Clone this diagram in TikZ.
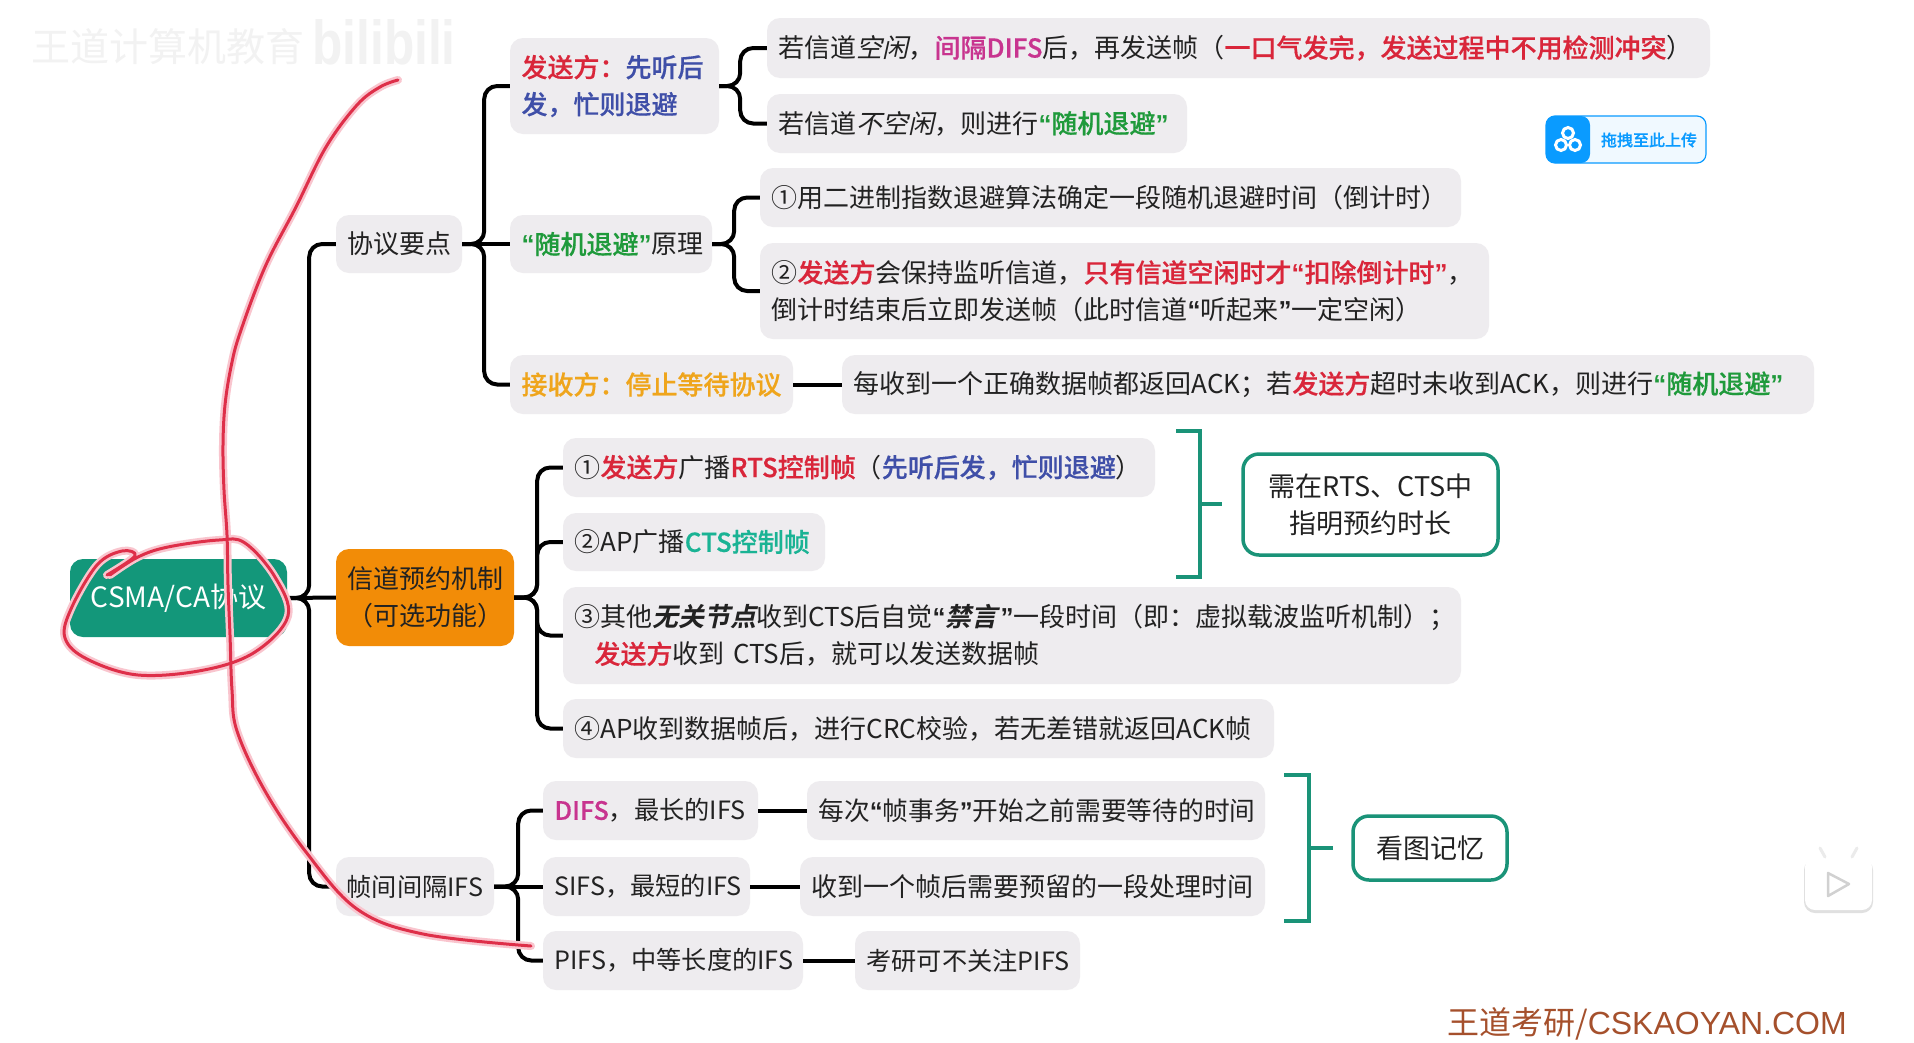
\documentclass[tikz,border=0pt]{standalone}
\usepackage{fontspec}
\setmainfont[BoldFont={Noto Sans CJK SC Medium},BoldFeatures={FakeBold=0.5}]{Noto Sans CJK SC}
\newfontfamily\slantreg[FakeSlant=0.22]{Noto Sans CJK SC}
\newfontfamily\slantbold[FakeSlant=0.22]{Noto Sans CJK SC Bold}
\newfontfamily\latinfont{Liberation Sans}
\definecolor{boxgrey}{HTML}{EEECEF}
\definecolor{inkc}{HTML}{222222}
\definecolor{cred}{HTML}{D9263A}
\definecolor{cblue}{HTML}{3F4FA8}
\definecolor{cgreen}{HTML}{1F9A3B}
\definecolor{cteal}{HTML}{1AB394}
\definecolor{cmag}{HTML}{C8348F}
\definecolor{corange}{HTML}{EFA51C}
\definecolor{rootc}{HTML}{13977A}
\definecolor{orangefill}{HTML}{F28C07}
\definecolor{edgegreen}{HTML}{1A9378}
\definecolor{brownc}{HTML}{A5502C}
\definecolor{upblue}{HTML}{0A9BFF}
\definecolor{penred}{HTML}{DE2F49}
\definecolor{penglow}{HTML}{F9C5CE}
\newcommand{\tred}[1]{{\bfseries\color{cred}#1}}
\newcommand{\tblue}[1]{{\bfseries\color{cblue}#1}}
\newcommand{\tgreen}[1]{{\bfseries\color{cgreen}#1}}
\newcommand{\tteal}[1]{{\bfseries\color{cteal}#1}}
\newcommand{\tmag}[1]{{\bfseries\color{cmag}#1}}
\newcommand{\torg}[1]{{\bfseries\color{corange}#1}}
\newcommand{\qo}{{\latinfont\bfseries “}}
\newcommand{\qc}{{\latinfont\bfseries ”}}
\tikzset{
  bx/.style={rectangle,rounded corners=13pt,fill=boxgrey,text=inkc,inner sep=0pt,align=center,
    font=\fontsize{26}{37}\selectfont},
  bl/.style={bx,align=left,text width=\bw pt-23pt},
  nar/.style={font=\fontsize{25.2}{37}\selectfont},
  notebox/.style={rectangle,rounded corners=16pt,draw=edgegreen,line width=3.5pt,fill=white,text=inkc,inner sep=0pt,align=center,
    font=\fontsize{27}{37}\selectfont},
  conn/.style={draw=black,line width=4pt,rounded corners=13pt},
  brk/.style={draw=edgegreen,line width=3.8pt},
  pen/.style={draw=penred,line width=3pt,line cap=round,line join=round},
  penhalo/.style={draw=penglow,line width=8pt,line cap=round,line join=round},
}
\newcommand{\bxn}[7]{\pgfmathsetmacro{\bw}{#4-#3}\pgfmathsetmacro{\bh}{#6-#5}\pgfmathsetmacro{\cx}{(#3+#4)/2}\pgfmathsetmacro{\cy}{(#5+#6)/2}%
  \node[#2,minimum width=\bw pt,minimum height=\bh pt] (#1) at (\cx,\cy) {#7};}
\begin{document}
\begin{tikzpicture}[x=1pt,y=-1pt]
\useasboundingbox (0,0) rectangle (1914,1042);
\fill[white] (0,0) rectangle (1914,1042);
% watermark
\node[text=black!5,font=\fontsize{39}{39}\selectfont,inner sep=0pt] (wm) at (168,47) {王道计算机教育};
\node[text=black!5,font=\latinfont\bfseries\fontsize{62}{62}\selectfont,inner sep=0pt,xscale=0.8] (wmb) at (384,42) {bilibili};
% nodes
\bxn{root}{bx,fill=rootc,text=white,font=\fontsize{28}{37}\selectfont}{70}{287}{559}{637}{CSMA/CA协议}
\bxn{proto}{bx}{336}{462}{215}{273}{协议要点}
\bxn{resv}{bx,fill=orangefill}{336}{514}{549}{646}{信道预约机制\\（可选功能）}
\bxn{ifs}{bx,nar}{336}{494}{857}{916}{帧间间隔IFS}
\bxn{send}{bl}{510}{719}{38}{134}{\tred{发送方：}\tblue{先听后}\\\tblue{发，忙则退避}}
\bxn{idle}{bl}{767}{1710}{18}{78}{若信道{\slantreg 空闲}，\tmag{间隔DIFS}后，再发送帧（\tred{一口气发完，发送过程中不用检测冲突}）}
\bxn{busy}{bl}{767}{1187}{94}{153}{若信道{\slantreg 不空闲}，则进行\tgreen{\qo 随机退避\qc}}
\bxn{backoff}{bl}{510}{712}{215}{273}{\tgreen{\qo 随机退避\qc}原理}
\bxn{bo1}{bl}{760}{1461}{168}{227}{①用二进制指数退避算法确定一段随机退避时间（倒计时）}
\bxn{bo2}{bl}{760}{1489}{243}{339}{②\tred{发送方}会保持监听信道，\tred{只有信道空闲时才\qo 扣除倒计时\qc}，\\倒计时结束后立即发送帧（此时信道\qo 听起来\qc 一定空闲）}
\bxn{recv}{bl}{510}{793}{355}{414}{\torg{接收方：停止等待协议}}
\bxn{ack}{bl}{842}{1814}{355}{414}{每收到一个正确数据帧都返回ACK；若\tred{发送方}超时未收到ACK，则进行\tgreen{\qo 随机退避\qc}}
\bxn{rts}{bl}{563}{1155}{438}{497}{①\tred{发送方}广播\tred{RTS控制帧}（\tblue{先听后发，忙则退避}）}
\bxn{cts}{bl}{563}{825}{513}{571}{②AP广播\tteal{CTS控制帧}}
\bxn{quiet}{bl}{563}{1461}{587}{684}{③其他{\slantbold 无关节点}收到CTS后自觉\qo{\slantbold 禁言}\kern3pt\qc 一段时间（即：虚拟载波监听机制）；\\\hspace*{20pt}\tred{发送方}收到 CTS后，就可以发送数据帧}
\bxn{apack}{bl}{563}{1274}{699}{758}{④AP收到数据帧后，进行CRC校验，若无差错就返回ACK帧}
\bxn{dur}{notebox}{1243}{1498}{454}{555}{需在RTS、CTS中\\指明预约时长}
\bxn{difs}{bl,nar}{543}{758}{781}{840}{\tmag{DIFS}，最长的IFS}
\bxn{difsn}{bl,font=\fontsize{25.7}{37}\selectfont}{807}{1265}{781}{840}{每次\qo 帧事务\qc 开始之前需要等待的时间}
\bxn{sifs}{bl,nar}{543}{750}{857}{916}{SIFS，最短的IFS}
\bxn{sifsn}{bl}{800}{1265}{857}{916}{收到一个帧后需要预留的一段处理时间}
\bxn{pifs}{bl,nar}{543}{803}{931}{990}{PIFS，中等长度的IFS}
\bxn{pifsn}{bl,nar}{855}{1080}{931}{990}{考研可不关注PIFS}
\bxn{memo}{notebox}{1353}{1507}{816}{880}{看图记忆}
% connectors
\draw[conn] (root.east) -- (resv.west);
\draw[conn] (root.east) -- ++(22,0) |- (proto.west);
\draw[conn] (root.east) -- ++(22,0) |- (ifs.west);
\draw[conn] (proto.east) -- (backoff.west);
\draw[conn] (proto.east) -- ++(22,0) |- (send.west);
\draw[conn] (proto.east) -- ++(22,0) |- (recv.west);
\draw[conn] (send.east) -- ++(21,0) |- (idle.west);
\draw[conn] (send.east) -- ++(21,0) |- (busy.west);
\draw[conn] (backoff.east) -- ++(22,0) |- (bo1.west);
\draw[conn] (backoff.east) -- ++(22,0) |- (bo2.west);
\draw[conn] (recv.east) -- (ack.west);
\draw[conn] (resv.east) -- ++(23,0) |- (rts.west);
\draw[conn] (resv.east) -- ++(23,0) |- (cts.west);
\draw[conn] (resv.east) -- ++(23,0) |- (quiet.west);
\draw[conn] (resv.east) -- ++(23,0) |- (apack.west);
\draw[conn] (ifs.east) -- (sifs.west);
\draw[conn] (ifs.east) -- ++(24,0) |- (difs.west);
\draw[conn] (ifs.east) -- ++(24,0) |- (pifs.west);
\draw[conn] (difs.east) -- (difsn.west);
\draw[conn] (sifs.east) -- (sifsn.west);
\draw[conn] (pifs.east) -- (pifsn.west);
% brackets
\coordinate (b1a) at (1176,431); \coordinate (b1b) at (1176,577); \coordinate (b1m) at (1200,504);
\draw[brk] (b1a) -| (b1m |- b1b) -- (b1b);
\draw[brk] (b1m) -- (1222,504);
\coordinate (b2a) at (1284,775); \coordinate (b2b) at (1284,921); \coordinate (b2m) at (1309,848);
\draw[brk] (b2a) -| (b2m |- b2b) -- (b2b);
\draw[brk] (b2m) -- (1333,848);
% upload button
\draw[upblue,line width=1.2pt,fill=upblue!6,rounded corners=9pt] (1546,116) rectangle (1706,163);
\fill[upblue,rounded corners=9pt] (1546,116) rectangle (1590,163);
\draw[white,line width=3pt] (1568,133) circle (5.5pt);
\draw[white,line width=3pt] (1561,145) circle (5.5pt);
\draw[white,line width=3pt] (1575,145) circle (5.5pt);
\node[text=upblue,font=\bfseries\fontsize{16}{16}\selectfont,inner sep=0pt] (upl) at (1649,140) {拖拽至此上传};
% play badge
\fill[black!12,rounded corners=11pt] (1804,859) rectangle (1873,913);
\fill[white,rounded corners=10pt] (1805,857) rectangle (1872,910);
\draw[black!8,line width=3pt,line cap=round] (1825,857) -- (1820,848);
\draw[black!8,line width=3pt,line cap=round] (1852,857) -- (1857,848);
\draw[black!18,line width=2.5pt,line join=round,fill=white] (1828,873) -- (1849,884) -- (1828,896) -- cycle;
% footer
\node[text=brownc,font=\fontsize{32}{32}\selectfont,inner sep=0pt,anchor=center] (foot) at (1647,1024) {王道考研/{\latinfont CSKAOYAN.COM}};
% pen strokes
\foreach \st in {penhalo,pen}{
\draw[\st] plot[smooth,tension=0.6] coordinates {(398,80) (380,87) (357,105) (326,147) (296,207) (265,267) (240,333) (231,367) (225,405) (223,445) (224,490) (227,535) (228,585) (230,635) (232,690) (237,731) (265,791) (306,852) (357,909) (423,934) (531,946)};
\draw[\st] plot[smooth,tension=0.6] coordinates {(107,575) (135,556) (122,551) (97,565) (71,609) (65,638) (87,659) (138,675) (204,670) (255,652) (288,616) (275,577) (245,543) (219,540) (168,547) (138,557) (110,575)};
}
\end{tikzpicture}
\end{document}
